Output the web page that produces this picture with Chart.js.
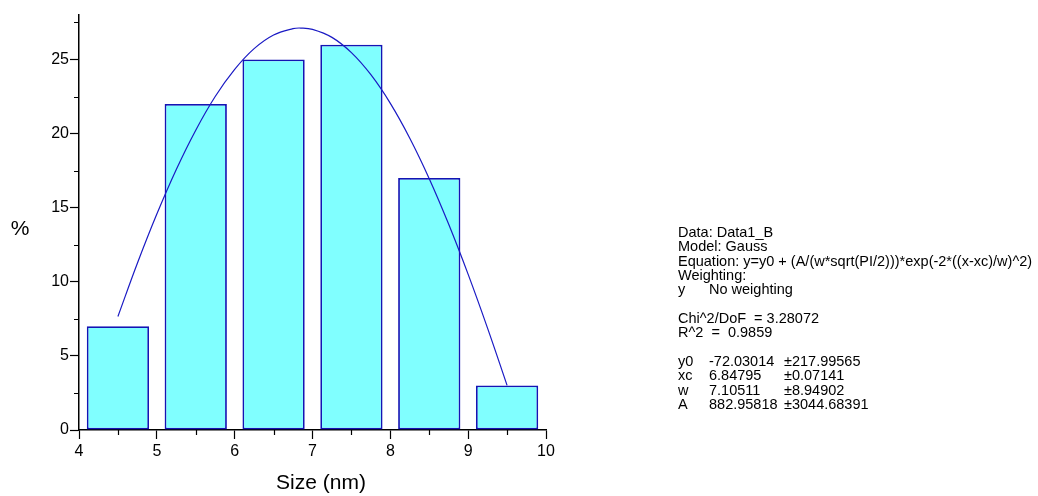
<!DOCTYPE html>
<html>
<head>
<meta charset="utf-8">
<script src="https://cdn.jsdelivr.net/npm/chart.js@4"></script>
<style>
  html, body { margin: 0; padding: 0; background: #fff; }
  #wrap { width: 1038px; height: 496px; }
</style>
</head>
<body>
<div id="wrap"><canvas id="chart" width="1038" height="496"></canvas></div>
<script>
// histogram bins (bin centres, nm) and percentages
const binCenters = [4.5, 5.5, 6.5, 7.5, 8.5, 9.5];
const binPercent = [7, 22, 25, 26, 17, 3];

// Gauss fit curve
const fitX = [4.5, 4.75, 5.0, 5.25, 5.5, 5.75, 6.0, 6.25, 6.5, 6.75, 6.85, 7.0, 7.25, 7.5, 7.75, 8.0, 8.25, 8.5, 8.75, 9.0, 9.25, 9.5];
const fitY = [7.66, 11.25, 14.57, 17.58, 20.23, 22.50, 24.33, 25.73, 26.65, 27.08, 27.12, 27.03, 26.49, 25.46, 23.97, 22.04, 19.69, 16.96, 13.88, 10.50, 6.86, 3.01];

// fit report text
const reportLines = [
  ['Data: Data1_B'],
  ['Model: Gauss'],
  ['Equation: y=y0 + (A/(w*sqrt(PI/2)))*exp(-2*((x-xc)/w)^2)'],
  ['Weighting:'],
  ['y', 'No weighting'],
  [],
  ['Chi^2/DoF  = 3.28072'],
  ['R^2  =  0.9859'],
  [],
  ['y0', '-72.03014', '\u00b1217.99565'],
  ['xc', '6.84795', '\u00b10.07141'],
  ['w', '7.10511', '\u00b18.94902'],
  ['A', '882.95818', '\u00b13044.68391']
];

const FONT = 'Liberation Sans, Arial, Helvetica, sans-serif';

const extras = {
  id: 'extras',
  afterDraw(chart) {
    const ctx = chart.ctx;
    const xs = chart.scales.x;
    const ys = chart.scales.y;
    ctx.save();

    // minor ticks
    ctx.strokeStyle = '#000';
    ctx.lineWidth = 1.2;
    ctx.beginPath();
    for (let v = 2.5; v < 28; v += 5) {
      const py = Math.round(ys.getPixelForValue(v)) + 0.5;
      ctx.moveTo(xs.left - 5, py);
      ctx.lineTo(xs.left, py);
    }
    for (let v = 4.5; v < 10; v += 1) {
      const px = Math.round(xs.getPixelForValue(v)) + 0.5;
      ctx.moveTo(px, ys.bottom);
      ctx.lineTo(px, ys.bottom + 5);
    }
    ctx.stroke();

    // axis titles
    ctx.fillStyle = '#000';
    ctx.font = '21px ' + FONT;
    ctx.textAlign = 'center';
    ctx.textBaseline = 'middle';
    ctx.fillText('%', 20, 229);
    ctx.fillText('Size (nm)', 321, 483);

    // fit report
    ctx.font = '14.5px ' + FONT;
    ctx.textAlign = 'left';
    const cols = [678, 709, 784];
    let y = 233;
    reportLines.forEach(line => {
      line.forEach((t, i) => ctx.fillText(t, cols[i], y));
      y += 14.33;
    });
    ctx.restore();
  }
};

new Chart(document.getElementById('chart'), {
  type: 'bar',
  data: {
    datasets: [
      {
        type: 'line',
        data: fitX.map((x, i) => ({ x: x, y: fitY[i] })),
        borderColor: '#1a1ac4',
        borderWidth: 1.2,
        pointRadius: 0,
        tension: 0.4,
        fill: false,
        order: 0
      },
      {
        type: 'bar',
        data: binCenters.map((x, i) => ({ x: x, y: binPercent[i] })),
        backgroundColor: '#80ffff',
        borderColor: '#1414b4',
        borderWidth: 1.8,
        borderSkipped: false,
        barPercentage: 0.8,
        categoryPercentage: 1.0,
        order: 1
      }
    ]
  },
  options: {
    responsive: false,
    animation: false,
    layout: { padding: { top: 15, right: 492, left: 0, bottom: 0 } },
    plugins: { legend: { display: false }, tooltip: { enabled: false } },
    scales: {
      x: {
        type: 'linear',
        min: 4,
        max: 10,
        offset: false,
        afterFit: s => { s.height = 66; },
        border: { display: true, color: '#000', width: 1.5 },
        grid: { offset: false, drawOnChartArea: false, drawTicks: true, tickLength: 9, tickColor: '#000', tickWidth: 1.2 },
        ticks: {
          stepSize: 1,
          color: '#000',
          padding: 3,
          maxRotation: 0,
          font: { family: FONT, size: 16 }
        }
      },
      y: {
        type: 'linear',
        min: 0,
        max: 28,
        afterFit: s => { s.width = 79; },
        border: { display: true, color: '#000', width: 1.5 },
        grid: { drawOnChartArea: false, drawTicks: true, tickLength: 9, tickColor: '#000', tickWidth: 1.2 },
        ticks: {
          stepSize: 5,
          includeBounds: false,
          color: '#000',
          padding: 1,
          font: { family: FONT, size: 16 }
        }
      }
    }
  },
  plugins: [extras]
});
</script>
</body>
</html>
